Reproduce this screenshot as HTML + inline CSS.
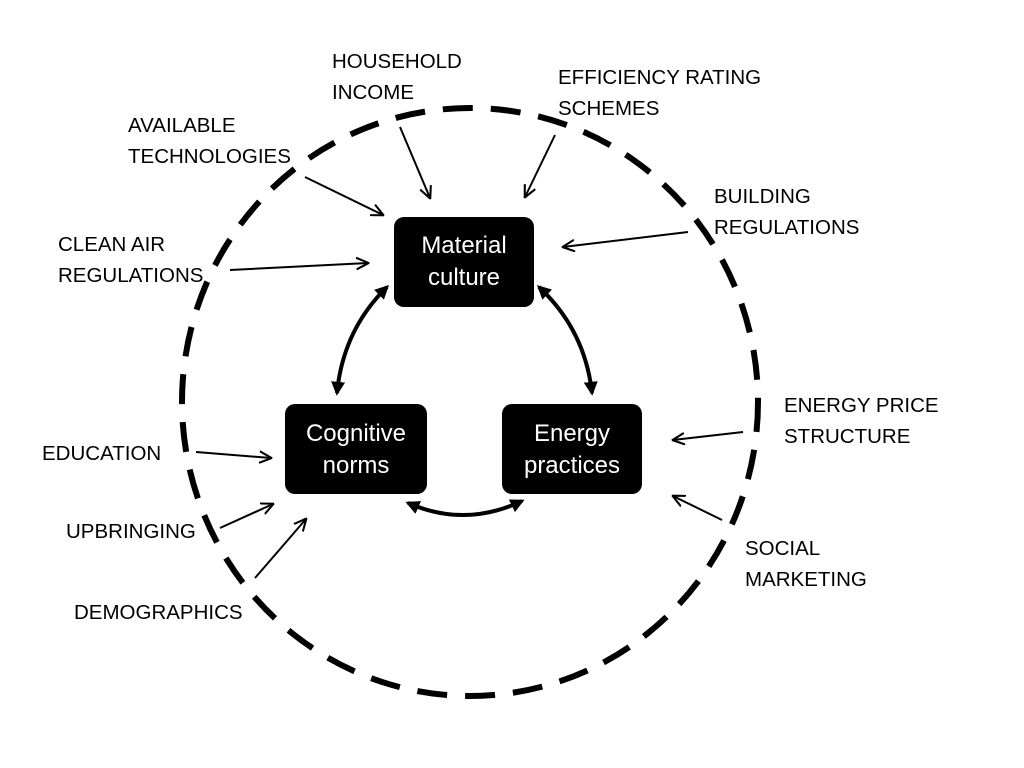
<!DOCTYPE html>
<html><head><meta charset="utf-8"><style>
html,body{margin:0;padding:0;background:#fff;}
svg{display:block;}
text{font-family:"Liberation Sans",sans-serif;}
.l{font-size:20.5px;fill:#000;}
.b{font-size:24px;fill:#fff;text-anchor:middle;}
</style></head><body>
<svg width="1024" height="768" viewBox="0 0 1024 768" xmlns="http://www.w3.org/2000/svg">
<defs>
<marker id="a" viewBox="0 0 10 10" refX="9" refY="5" markerWidth="13" markerHeight="13" orient="auto-start-reverse" markerUnits="userSpaceOnUse"><path d="M0,0.5 L9.5,5 L0,9.5" fill="none" stroke="#000" stroke-width="1.6"/></marker>
<marker id="t" viewBox="0 0 10 10" refX="8" refY="5" markerWidth="14" markerHeight="14" orient="auto-start-reverse" markerUnits="userSpaceOnUse"><path d="M0,0 L10,5 L0,10 z" fill="#000"/></marker>
</defs>
<ellipse cx="470" cy="402" rx="288" ry="294" fill="none" stroke="#000" stroke-width="6" stroke-dasharray="30 18"/>
<rect x="394" y="217" width="140" height="90" rx="10" fill="#000"/>
<rect x="285" y="404" width="142" height="90" rx="10" fill="#000"/>
<rect x="502" y="404" width="140" height="90" rx="10" fill="#000"/>
<text class="b" x="464" y="253">Material</text><text class="b" x="464" y="285">culture</text>
<text class="b" x="356" y="441">Cognitive</text><text class="b" x="356" y="473">norms</text>
<text class="b" x="572" y="441">Energy</text><text class="b" x="572" y="473">practices</text>
<g fill="none" stroke="#000" stroke-width="4">
<path d="M387,287 Q343,330 337,393" marker-start="url(#t)" marker-end="url(#t)"/>
<path d="M539,287 Q585,330 592,393" marker-start="url(#t)" marker-end="url(#t)"/>
<path d="M408,503 Q465,528 522,501" marker-start="url(#t)" marker-end="url(#t)"/>
</g>
<g stroke="#000" stroke-width="2" marker-end="url(#a)">
<line x1="400" y1="127" x2="430" y2="198"/>
<line x1="555" y1="135" x2="525" y2="197"/>
<line x1="305" y1="177" x2="383" y2="215"/>
<line x1="230" y1="270" x2="368" y2="263"/>
<line x1="688" y1="232" x2="563" y2="247"/>
<line x1="743" y1="432" x2="673" y2="440"/>
<line x1="722" y1="520" x2="673" y2="496"/>
<line x1="196" y1="452" x2="271" y2="458"/>
<line x1="220" y1="528" x2="273" y2="504"/>
<line x1="255" y1="578" x2="306" y2="519"/>
</g>
<g class="l">
<text class="l" x="332" y="68">HOUSEHOLD</text><text class="l" x="332" y="99">INCOME</text>
<text class="l" x="558" y="84">EFFICIENCY RATING</text><text class="l" x="558" y="115">SCHEMES</text>
<text class="l" x="128" y="132">AVAILABLE</text><text class="l" x="128" y="163">TECHNOLOGIES</text>
<text class="l" x="714" y="203">BUILDING</text><text class="l" x="714" y="234">REGULATIONS</text>
<text class="l" x="58" y="251">CLEAN AIR</text><text class="l" x="58" y="282">REGULATIONS</text>
<text class="l" x="784" y="412">ENERGY PRICE</text><text class="l" x="784" y="443">STRUCTURE</text>
<text class="l" x="42" y="460">EDUCATION</text>
<text class="l" x="66" y="538">UPBRINGING</text>
<text class="l" x="745" y="555">SOCIAL</text><text class="l" x="745" y="586">MARKETING</text>
<text class="l" x="74" y="619">DEMOGRAPHICS</text>
</g>
</svg>
</body></html>
